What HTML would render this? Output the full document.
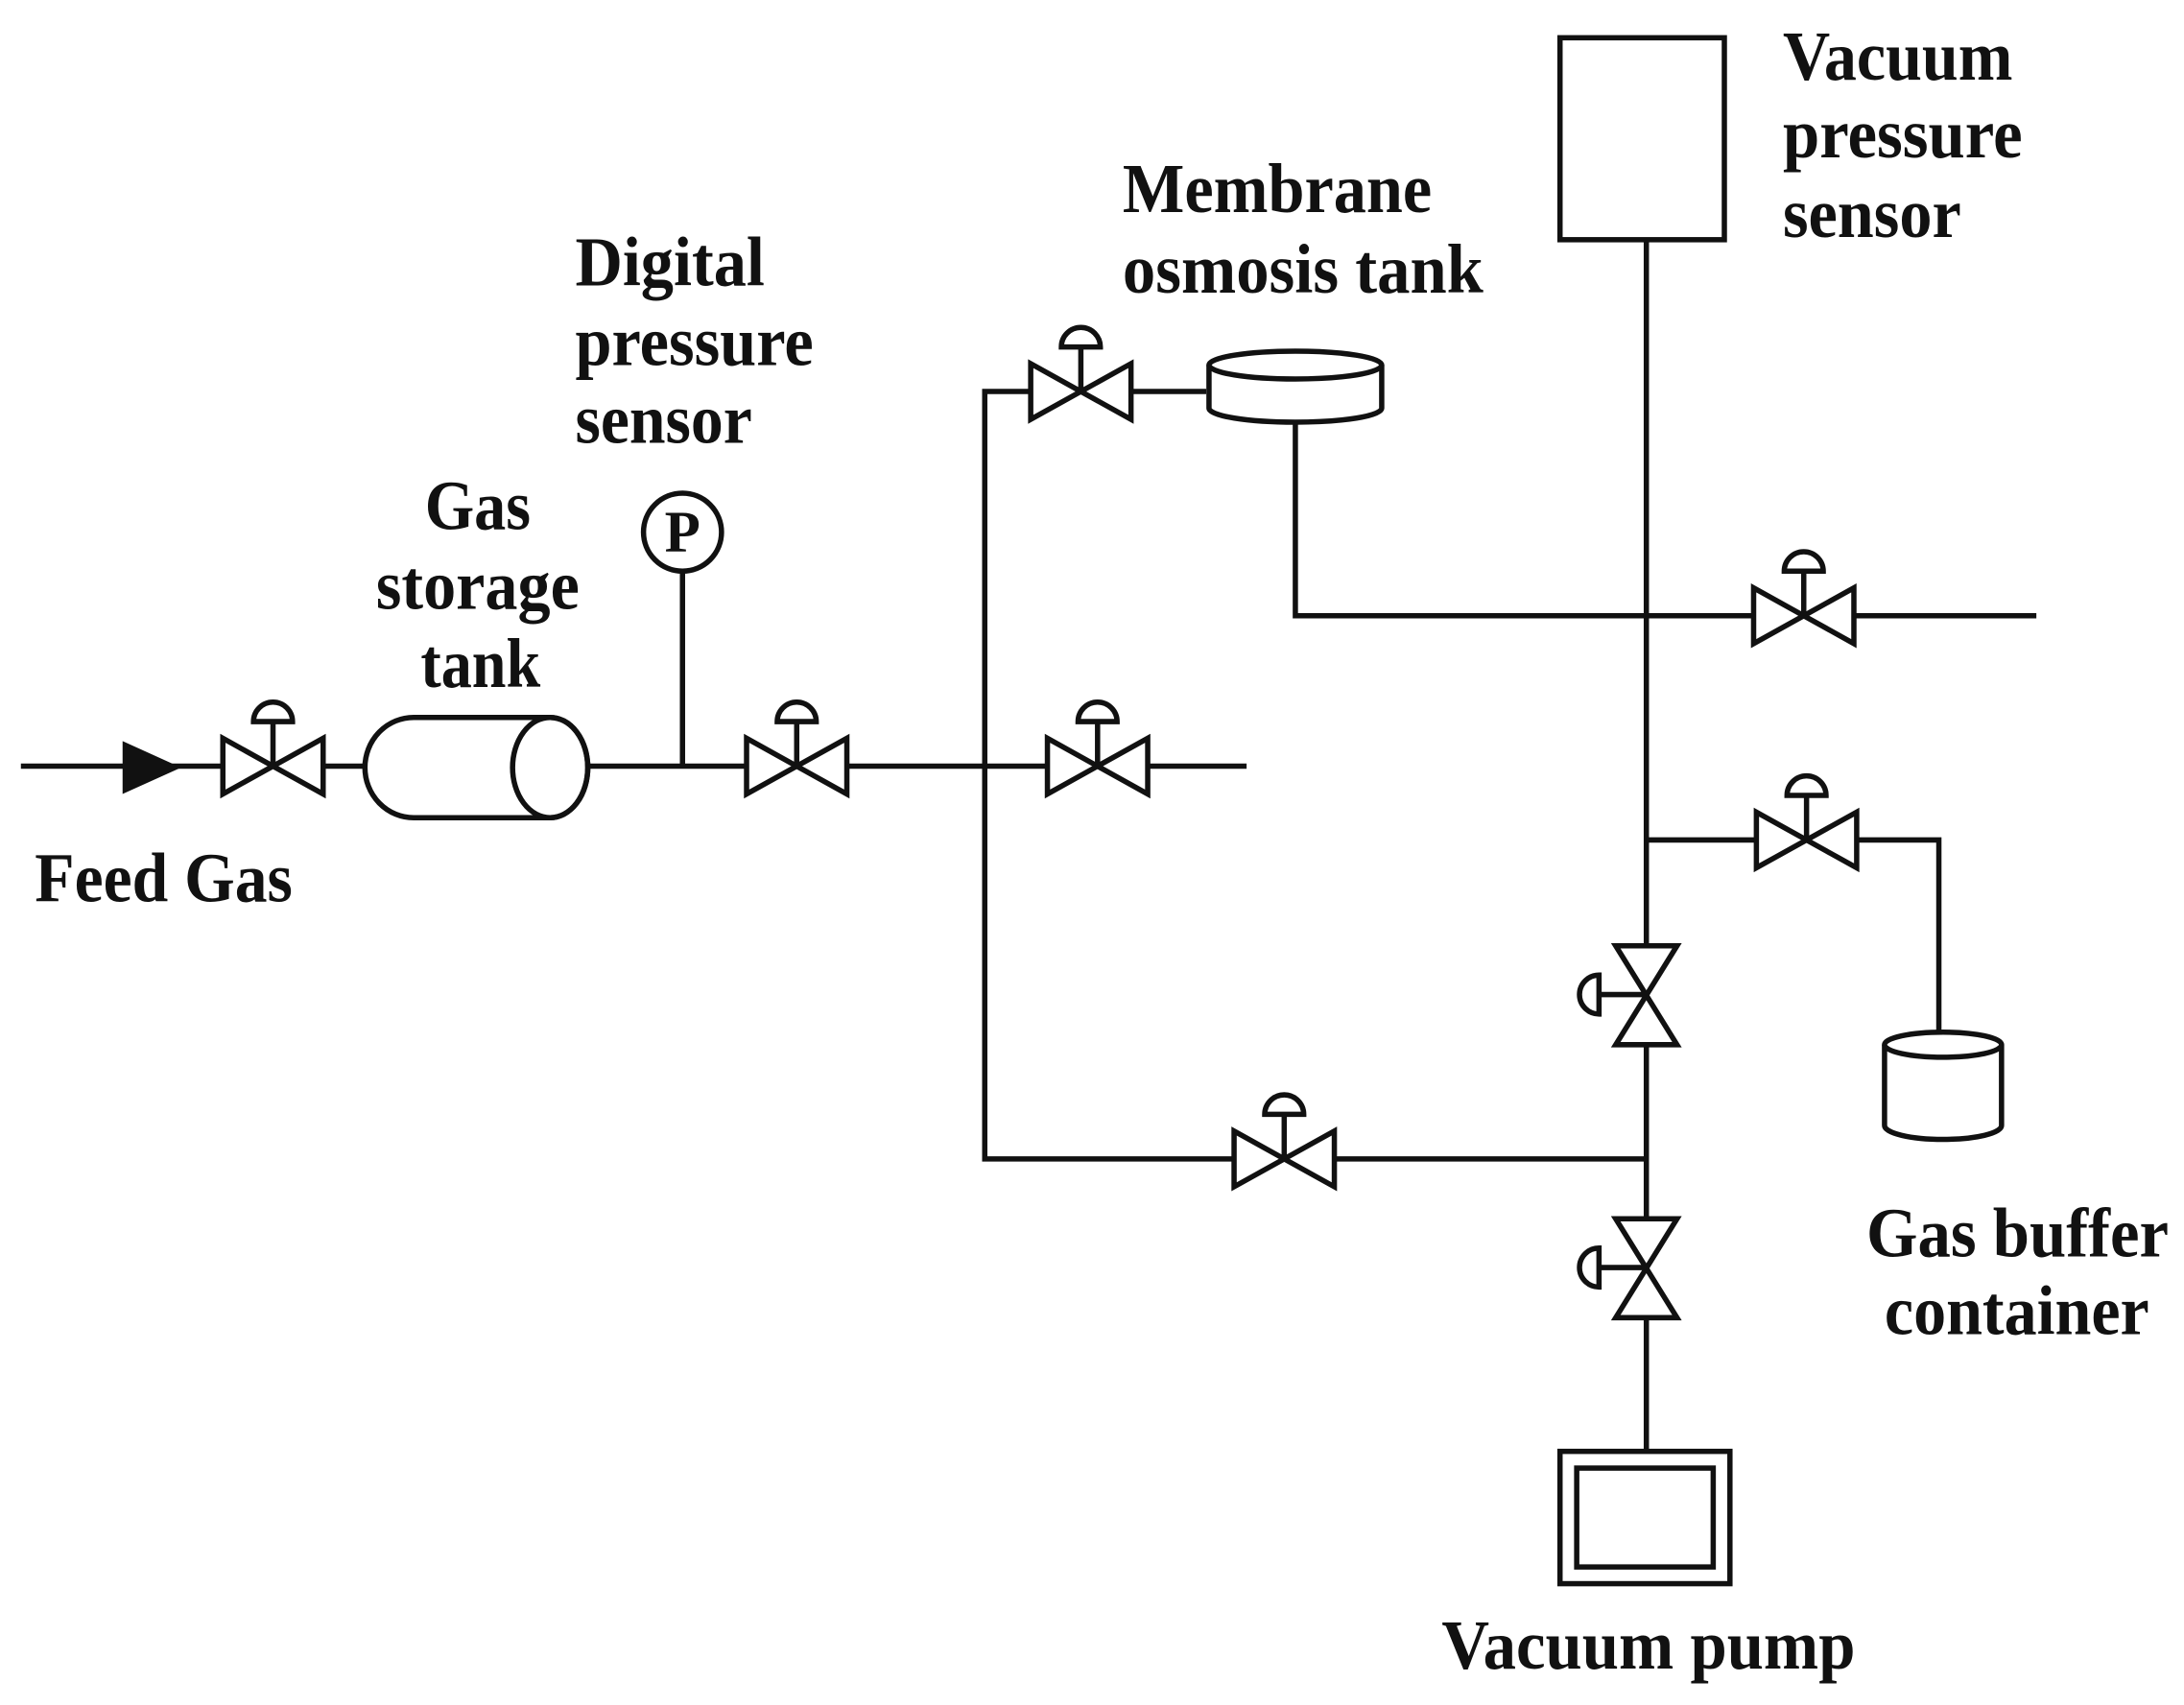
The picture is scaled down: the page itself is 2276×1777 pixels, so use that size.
<!DOCTYPE html>
<html><head><meta charset="utf-8"><style>
html,body{margin:0;padding:0;background:#fff;}
svg{display:block;}
text{font-family:"Liberation Serif",serif;font-weight:bold;font-size:50px;fill:#111;}
</style></head><body>
<svg width="2276" height="1777" viewBox="0 0 1568 1224" xmlns="http://www.w3.org/2000/svg">
<defs>
<g id="vh" fill="none" stroke="#111" stroke-width="3.8">
<path d="M-36,-20 L-36,20 L36,-20 L36,20 Z" fill="#fff"/>
<line x1="0" y1="0" x2="0" y2="-32"/>
<path d="M-14,-32 A14,14 0 0 1 14,-32 Z" fill="#fff"/>
</g>
<g id="vv" fill="none" stroke="#111" stroke-width="3.8">
<path d="M-22,-35 L22,-35 L-22,36 L22,36 Z" fill="#fff"/>
<line x1="0" y1="0" x2="-34" y2="0"/>
<path d="M-34,-14 A14,14 0 0 0 -34,14 Z" fill="#fff"/>
</g>
</defs>
<g fill="none" stroke="#111" stroke-width="3.8">
<line x1="15" y1="550" x2="895" y2="550"/>
<line x1="490" y1="550" x2="490" y2="410"/>
<circle cx="490" cy="382" r="28" fill="#fff"/>
<polyline points="866,281 707,281 707,832 1182,832"/>
<polyline points="930,303 930,442 1462,442"/>
<line x1="1182" y1="172" x2="1182" y2="1042"/>
<polyline points="1182,603 1392,603 1392,744"/>
<path d="M297,515 L395,515 A27,36 0 0 1 395,587 L297,587 A35,36 0 0 1 297,515 Z" fill="#fff"/>
<ellipse cx="395" cy="551" rx="27" ry="36"/>
<path d="M868,262 L868,293 A62,10 0 0 0 992,293 L992,262" fill="#fff"/>
<ellipse cx="930" cy="262" rx="62" ry="10" fill="#fff"/>
<path d="M1353,750 L1353,808 A42,10 0 0 0 1437,808 L1437,750" fill="#fff"/>
<ellipse cx="1395" cy="750" rx="42" ry="9" fill="#fff"/>
<rect x="1120" y="27" width="118" height="145" fill="#fff"/>
<rect x="1120" y="1042" width="122" height="95" fill="#fff"/>
<rect x="1132" y="1054" width="98" height="71"/>
</g>
<polygon points="88,532 88,570 130,551" fill="#111"/>
<text x="490" y="396" text-anchor="middle" style="font-size:42px">P</text>
<use href="#vh" x="196" y="550"/>
<use href="#vh" x="572" y="550"/>
<use href="#vh" x="788" y="550"/>
<use href="#vh" x="776" y="281"/>
<use href="#vh" x="1295" y="442"/>
<use href="#vh" x="1297" y="603"/>
<use href="#vh" x="922" y="832"/>
<use href="#vv" x="1182" y="714"/>
<use href="#vv" x="1182" y="910"/>
<text x="25" y="647" textLength="185" lengthAdjust="spacingAndGlyphs">Feed Gas</text>
<text x="305" y="380" textLength="76" lengthAdjust="spacingAndGlyphs">Gas</text>
<text x="270" y="437" textLength="146" lengthAdjust="spacingAndGlyphs">storage</text>
<text x="302" y="493" textLength="86" lengthAdjust="spacingAndGlyphs">tank</text>
<text x="413" y="205" textLength="136" lengthAdjust="spacingAndGlyphs">Digital</text>
<text x="413" y="262" textLength="171" lengthAdjust="spacingAndGlyphs">pressure</text>
<text x="413" y="318" textLength="127" lengthAdjust="spacingAndGlyphs">sensor</text>
<text x="806" y="152" textLength="222" lengthAdjust="spacingAndGlyphs">Membrane</text>
<text x="806" y="210" textLength="259" lengthAdjust="spacingAndGlyphs">osmosis tank</text>
<text x="1280" y="57" textLength="165" lengthAdjust="spacingAndGlyphs">Vacuum</text>
<text x="1280" y="113" textLength="172" lengthAdjust="spacingAndGlyphs">pressure</text>
<text x="1280" y="170" textLength="128" lengthAdjust="spacingAndGlyphs">sensor</text>
<text x="1340" y="902" textLength="217" lengthAdjust="spacingAndGlyphs">Gas buffer</text>
<text x="1353" y="958" textLength="190" lengthAdjust="spacingAndGlyphs">container</text>
<text x="1035" y="1198" textLength="297" lengthAdjust="spacingAndGlyphs">Vacuum pump</text>
</svg>
</body></html>
